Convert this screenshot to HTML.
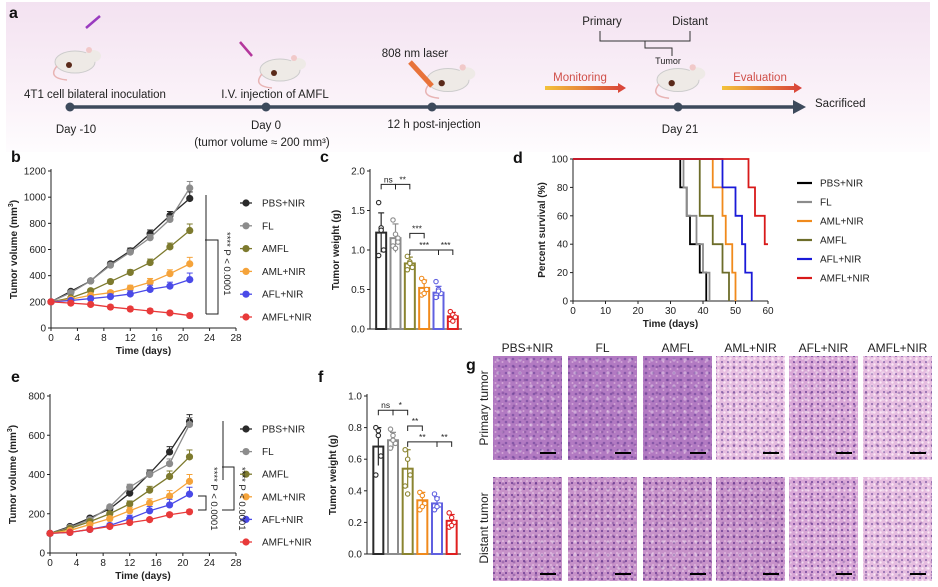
<!DOCTYPE html>
<html><head><meta charset="utf-8">
<style>
html,body{margin:0;padding:0;background:#fff;}
svg{display:block;font-family:"Liberation Sans",Arial,sans-serif;}
.tk{font-size:10px;fill:#222;}
.at{font-size:10px;font-weight:bold;fill:#222;}
.lg{font-size:10px;fill:#222;}
.pl{font-size:16px;font-weight:bold;fill:#111;}
.tl{font-size:11.5px;fill:#222;}
.gl{font-size:12px;fill:#222;}
</style></head>
<body>
<svg id="fig" width="938" height="587" viewBox="0 0 938 587" xmlns="http://www.w3.org/2000/svg">
<defs>
<linearGradient id="bgA" x1="0" y1="0" x2="0" y2="1"><stop offset="0" stop-color="#f3e2f1"/><stop offset="0.6" stop-color="#faf1f8"/><stop offset="1" stop-color="#fefcfe"/></linearGradient>
<linearGradient id="arr" x1="0" x2="1"><stop offset="0" stop-color="#f3c23a"/><stop offset="1" stop-color="#d8403a"/></linearGradient>
<pattern id="he1" width="7" height="7" patternUnits="userSpaceOnUse"><rect width="7" height="7" fill="#b27ac2"/><circle cx="2" cy="2" r="1.3" fill="#8658a8"/><circle cx="5.5" cy="5" r="1" fill="#d3a6d6"/></pattern>
<pattern id="he2" width="6" height="6" patternUnits="userSpaceOnUse"><rect width="6" height="6" fill="#c792c9"/><circle cx="2" cy="3" r="1.1" fill="#7a4a9c"/><circle cx="5" cy="1" r="0.8" fill="#f0d8ee"/></pattern>
<pattern id="he3" width="6" height="6" patternUnits="userSpaceOnUse"><rect width="6" height="6" fill="#e6bde0"/><circle cx="2" cy="2" r="0.9" fill="#6a4a9a"/><circle cx="4.5" cy="4.5" r="1.2" fill="#fbeaf6"/></pattern>
<pattern id="he4" width="6" height="6" patternUnits="userSpaceOnUse"><rect width="6" height="6" fill="#d8a6d6"/><circle cx="2" cy="2" r="1" fill="#70449a"/><circle cx="4.5" cy="4.5" r="1.1" fill="#f4dcf0"/></pattern>
<pattern id="ov" width="11" height="13" patternUnits="userSpaceOnUse"><circle cx="3" cy="9" r="1.6" fill="#fff" opacity="0.35"/><circle cx="8" cy="3" r="1.4" fill="#5a2e82" opacity="0.35"/></pattern>
</defs>
</svg>
<script>
// ---------- data ----------
const days = [0,3,6,9,12,15,18,21];
const groups = ["PBS+NIR","FL","AMFL","AML+NIR","AFL+NIR","AMFL+NIR"];
const colors = ["#2a2a2a","#8c8c8c","#7d7a2e","#f5a33a","#4a4ae8","#e83a3a"];
const barColors = ["#2a2a2a","#8c8c8c","#8a8430","#f08a1c","#6060e0","#e02020"];
const volB_PBS  = [200,280,360,490,590,720,860,990];
const volB_FL   = [200,270,360,480,580,690,830,1070];
const volB_AMFL = [200,230,285,355,425,500,620,745];
const volB_AML  = [200,220,250,270,305,350,415,490];
const volB_AFL  = [200,210,225,240,260,295,320,370];
const volB_AMFLN= [200,190,180,160,145,130,115,95];
const errB = [5,25,20,30,35,40,35,50];
const volE_PBS  = [100,135,178,225,305,405,515,670];
const volE_FL   = [100,130,170,235,335,400,455,655];
const volE_AMFL = [100,125,160,200,250,320,390,490];
const volE_AML  = [100,115,145,175,215,255,290,365];
const volE_AFL  = [100,105,120,140,175,215,245,300];
const volE_AMFLN= [100,105,120,135,155,170,195,210];
const errE = [5,10,15,25,30,30,35,35];
const weightC = [1.22,1.15,0.83,0.52,0.46,0.16];
const weightCsd = [0.25,0.18,0.08,0.1,0.08,0.05];
const dotsC = [[1.6,1.28,1.0,0.93,1.25],[1.38,1.2,1.15,1.05,1.02,1.1],[0.92,0.85,0.78,0.75,0.83],[0.64,0.6,0.5,0.43,0.45],[0.6,0.5,0.45,0.4,0.48],[0.22,0.18,0.15,0.12,0.1]];
const weightF = [0.68,0.72,0.54,0.34,0.32,0.21];
const weightFsd = [0.12,0.05,0.12,0.05,0.04,0.04];
const dotsF = [[0.8,0.75,0.62,0.5,0.78],[0.79,0.75,0.7,0.67,0.72],[0.66,0.6,0.5,0.43,0.38],[0.39,0.37,0.32,0.28,0.3],[0.38,0.35,0.31,0.28,0.3],[0.26,0.23,0.2,0.17,0.18]];
const surv_PBS  = [[0,100],[33,80],[35,60],[36,40],[39,20],[41,0]];
const surv_FL   = [[0,100],[34,80],[35,60],[38,40],[40,20],[42,0]];
const surv_AML  = [[0,100],[43,80],[46,60],[47,40],[49,20],[50,0]];
const surv_AMFL = [[0,100],[39,60],[43,40],[46,20],[48,0]];
const surv_AFL  = [[0,100],[46,80],[50,60],[52,40],[53,20],[55,0]];
const surv_AMFLN= [[0,100],[54,80],[56,60],[59,40],[60,40]];
const survNames = ["PBS+NIR","FL","AML+NIR","AMFL","AFL+NIR","AMFL+NIR"];
const survColors = ["#000","#8c8c8c","#f08a1c","#6d6d2a","#1a1ad8","#d81a1a"];
const volTicks = [0,200,400,600,800,1000,1200];
const volTicksE = [0,200,400,600,800];
const dayTicks = [0,4,8,12,16,20,24,28];
const wTicksC = ["0.0","0.5","1.0","1.5","2.0"];
const wTicksF = ["0.0","0.2","0.4","0.6","0.8","1.0"];
const survTicksX = [0,10,20,30,40,50,60];
const survTicksY = [0,20,40,60,80,100];

const NS="http://www.w3.org/2000/svg";
const svg=document.getElementById('fig');
function el(tag,attrs,parent,text){const e=document.createElementNS(NS,tag);for(const k in attrs)e.setAttribute(k,attrs[k]);if(text!==undefined)e.textContent=text;(parent||svg).appendChild(e);return e;}
function grp(name){const g=el('g',{});return g;}

// ---------- panel a ----------
const A=grp('panel-a-timeline');
el('rect',{x:6,y:2,width:924,height:150,fill:'url(#bgA)'},A);
el('text',{x:9,y:18,class:'pl'},A,'a');
el('line',{x1:70,y1:107,x2:795,y2:107,stroke:'#3d4a5c','stroke-width':3.5},A);
el('path',{d:'M793,100 L806,107 L793,114 Z',fill:'#3d4a5c'},A);
[70,266,432,678].forEach(x=>el('circle',{cx:x,cy:107,r:4.5,fill:'#3d4a5c'},A));
function mouse(cx,cy,s){el('ellipse',{cx:cx,cy:cy,rx:20*s,ry:11*s,fill:'#eeeae6',stroke:'#ccc'},A);el('ellipse',{cx:cx+18*s,cy:cy-6*s,rx:8*s,ry:6*s,fill:'#eeeae6'},A);el('circle',{cx:cx+14*s,cy:cy-12*s,r:3*s,fill:'#f1c9c9'},A);el('path',{d:`M${cx-18*s},${cy+4*s} q-10,12 10,14`,stroke:'#e8b4b4',fill:'none','stroke-width':1.5},A);el('circle',{cx:cx-6*s,cy:cy+3*s,r:3*s,fill:'#5a2a1a'},A);}
mouse(75,62,1);mouse(280,70,1);mouse(448,80,1.05);mouse(678,80,1.05);
el('line',{x1:86,y1:28,x2:100,y2:16,stroke:'#9a3cc0','stroke-width':2.5},A);
el('line',{x1:240,y1:42,x2:252,y2:56,stroke:'#b4369c','stroke-width':2.5},A);
el('line',{x1:410,y1:62,x2:432,y2:86,stroke:'#e8733a','stroke-width':5},A);
const at=[['4T1 cell bilateral inoculation',95,98,'middle'],['Day -10',76,133,'middle'],['I.V. injection of AMFL',275,98,'middle'],['Day 0',266,129,'middle'],['12 h post-injection',434,128,'middle'],['808 nm laser',415,57,'middle'],['Primary',602,25,'middle'],['Distant',690,25,'middle'],['Day 21',680,133,'middle'],['Sacrificed',815,107,'start']];
at.forEach(t=>{el('text',{x:t[1],y:t[2],class:'tl','text-anchor':t[3]},A,t[0]);});
el('text',{x:262,y:146,class:'tl','text-anchor':'middle'},A,'(tumor volume ≈ 200 mm³)');
el('text',{x:668,y:64,'font-size':'9px','text-anchor':'middle',fill:'#222'},A,'Tumor');
el('path',{d:'M600,31 V41 H690 V31 M645,41 V48 H672 V56',stroke:'#333',fill:'none'},A);
el('text',{x:580,y:81,'font-size':'11.5px','text-anchor':'middle',fill:'#d0504a'},A,'Monitoring');
el('text',{x:760,y:81,'font-size':'11.5px','text-anchor':'middle',fill:'#d0504a'},A,'Evaluation');
el('path',{d:'M545,86 H618 V83 L626,88 L618,93 V90 H545 Z',fill:'url(#arr)'},A);
el('path',{d:'M722,86 H794 V83 L802,88 L794,93 V90 H722 Z',fill:'url(#arr)'},A);

// ---------- line charts ----------
function lineChart(name,letter,lx,ly,x0,x1,y0,yTop,ymax,ticks,series,err,legY,brackets){
  const G=grp(name);
  const X=d=>x0+(d/28)*(x1-x0), Y=v=>y0-(v/ymax)*(y0-yTop);
  el('text',{x:lx,y:ly,class:'pl'},G,letter);
  el('line',{x1:x0,y1:yTop-2,x2:x0,y2:y0,stroke:'#222'},G);
  el('line',{x1:x0,y1:y0,x2:x1,y2:y0,stroke:'#222'},G);
  ticks.forEach(v=>{el('line',{x1:x0-3,y1:Y(v),x2:x0,y2:Y(v),stroke:'#222'},G);el('text',{x:x0-5,y:Y(v)+3.5,class:'tk','text-anchor':'end'},G,v);});
  dayTicks.forEach(d=>{el('line',{x1:X(d),y1:y0,x2:X(d),y2:y0+3,stroke:'#222'},G);el('text',{x:X(d),y:y0+13,class:'tk','text-anchor':'middle'},G,d);});
  el('text',{x:(x0+x1)/2,y:y0+26,class:'at','text-anchor':'middle'},G,'Time (days)');
  const ty=(y0+yTop)/2;
  const t=el('text',{x:0,y:0,class:'at','text-anchor':'middle',transform:`translate(${x0-34},${ty}) rotate(-90)`},G,'Tumor volume (mm');
  el('tspan',{'font-size':'7px',dy:-4},t,'3');el('tspan',{dy:4},t,')');
  series.forEach((s,i)=>{
    const pts=s.map((v,j)=>X(days[j])+','+Y(v)).join(' ');
    const pl=el('polyline',{points:pts,fill:'none',stroke:colors[i],'stroke-width':1.3},G);
    
    s.forEach((v,j)=>{const e=(i==5?0.3:1)*err[j]*(v/s[s.length-1]);el('line',{x1:X(days[j]),y1:Y(v+e),x2:X(days[j]),y2:Y(v),stroke:colors[i]},G);el('line',{x1:X(days[j])-3,y1:Y(v+e),x2:X(days[j])+3,y2:Y(v+e),stroke:colors[i]},G);
      const c=el('circle',{cx:X(days[j]),cy:Y(v),r:3.6,fill:colors[i]},G);});
  });
  groups.forEach((g,i)=>{const y=legY[0]+i*(legY[1]);
    const le=el('g',{},G);
    el('line',{x1:240,y1:y,x2:252,y2:y,stroke:colors[i],'stroke-width':1.3},le);el('circle',{cx:246,cy:y,r:3.6,fill:colors[i]},le);el('text',{x:262,y:y+3.5,class:'lg'},le,g);});
  brackets(G);
}
lineChart('panel-b-tumor-volume','b',11,162,51,236,328,171,1200,volTicks,[volB_PBS,volB_FL,volB_AMFL,volB_AML,volB_AFL,volB_AMFLN],errB,[203,22.8],G=>{
  el('line',{x1:206,y1:195,x2:206,y2:314,stroke:'#222'},G);
  el('path',{d:'M205,240 H218 V314 H206',stroke:'#222',fill:'none'},G);
  el('text',{x:0,y:0,'font-size':'9.5px',fill:'#222',transform:'translate(224,232) rotate(90)'},G,'**** P < 0.0001');
});
lineChart('panel-e-tumor-volume','e',11,382,50,236,553,396,800,volTicksE,[volE_PBS,volE_FL,volE_AMFL,volE_AML,volE_AFL,volE_AMFLN],errE,[429,22.6],G=>{
  el('line',{x1:223,y1:421,x2:223,y2:480,stroke:'#222'},G);
  el('path',{d:'M222,467 H234 V510 H222',stroke:'#222',fill:'none'},G);
  el('path',{d:'M198,496 H206 V510 H198',stroke:'#222',fill:'none'},G);
  el('text',{x:0,y:0,'font-size':'9.5px',fill:'#222',transform:'translate(211,467) rotate(90)'},G,'**** P < 0.0001');
  el('text',{x:0,y:0,'font-size':'9.5px',fill:'#222',transform:'translate(239,467) rotate(90)'},G,'**** P < 0.0001');
});

// ---------- bar charts ----------
function barChart(name,letter,lx,ly,x0,x1,y0,yTop,ymax,ticks,vals,sds,dots,sig){
  const G=grp(name);
  const Y=v=>y0-(v/ymax)*(y0-yTop);
  const step=(x1-x0-6)/6, X=i=>x0+6+step*(i+0.5)-2;
  el('text',{x:lx,y:ly,class:'pl'},G,letter);
  el('line',{x1:x0,y1:yTop-2,x2:x0,y2:y0,stroke:'#222'},G);
  el('line',{x1:x0,y1:y0,x2:x1,y2:y0,stroke:'#222'},G);
  ticks.forEach(t=>{const v=parseFloat(t);el('line',{x1:x0-3,y1:Y(v),x2:x0,y2:Y(v),stroke:'#222'},G);el('text',{x:x0-5,y:Y(v)+3.5,class:'tk','text-anchor':'end'},G,t);});
  el('text',{x:0,y:0,class:'at','text-anchor':'middle',transform:`translate(${x0-31},${(y0+yTop)/2}) rotate(-90)`},G,'Tumor weight (g)');
  vals.forEach((v,i)=>{const c=barColors[i];
    const b=el('rect',{x:X(i)-5,y:Y(v),width:10,height:y0-Y(v),fill:'#fff',stroke:c,'stroke-width':2},G);
    el('line',{x1:X(i),y1:Y(v-sds[i]),x2:X(i),y2:Y(v+sds[i]),stroke:c,'stroke-width':1.2},G);
    el('line',{x1:X(i)-3,y1:Y(v+sds[i]),x2:X(i)+3,y2:Y(v+sds[i]),stroke:c,'stroke-width':1.2},G);
    dots[i].forEach((d,k)=>el('circle',{cx:X(i)+(k%3-1)*2.5,cy:Y(d),r:2.2,fill:'#fff',stroke:c,'stroke-width':1.1},G));
  });
  sig.forEach(s=>{const [a,b,y,txt]=s;const yy=Y(y);el('path',{d:`M${X(a)},${yy+5} V${yy} H${X(b)} V${yy+5}`,stroke:'#222',fill:'none'},G);el('text',{x:(X(a)+X(b))/2,y:yy-2,'font-size':'8.5px','text-anchor':'middle',fill:'#222'},G,txt);});
}
barChart('panel-c-tumor-weight','c',320,162,370,462,329,171,2.0,wTicksC,weightC,weightCsd,dotsC,[[0,1,1.83,'ns'],[1,2,1.83,'**'],[2,3,1.21,'***'],[2,4,1.0,'***'],[4,5,1.0,'***']]);
barChart('panel-f-tumor-weight','f',318,382,367,461,554,396,1.0,wTicksF,weightF,weightFsd,dotsF,[[0,1,0.91,'ns'],[1,2,0.91,'*'],[2,3,0.81,'**'],[2,4,0.71,'**'],[4,5,0.71,'**']]);

// ---------- panel d ----------
(function(){
  const G=grp('panel-d-survival');
  const x0=573,x1=768,y0=301,yT=159;
  const X=d=>x0+d/60*(x1-x0), Y=v=>y0-v/100*(y0-yT);
  el('text',{x:513,y:163,class:'pl'},G,'d');
  el('line',{x1:x0,y1:yT,x2:x0,y2:y0,stroke:'#222'},G);
  el('line',{x1:x0,y1:y0,x2:x1,y2:y0,stroke:'#222'},G);
  survTicksY.forEach(v=>{el('line',{x1:x0-3,y1:Y(v),x2:x0,y2:Y(v),stroke:'#222'},G);el('text',{x:x0-5,y:Y(v)+3.5,class:'tk','text-anchor':'end'},G,v);});
  survTicksX.forEach(v=>{el('line',{x1:X(v),y1:y0,x2:X(v),y2:y0+3,stroke:'#222'},G);el('text',{x:X(v),y:y0+13,class:'tk','text-anchor':'middle'},G,v);});
  el('text',{x:(x0+x1)/2,y:y0+26,class:'at','text-anchor':'middle'},G,'Time (days)');
  el('text',{x:0,y:0,class:'at','text-anchor':'middle',transform:`translate(545,${(y0+yT)/2}) rotate(-90)`},G,'Percent survival (%)');
  [surv_PBS,surv_FL,surv_AML,surv_AMFL,surv_AFL,surv_AMFLN].forEach((s,i)=>{
    let d=`M${X(s[0][0])},${Y(s[0][1])}`;
    for(let k=1;k<s.length;k++){d+=` H${X(s[k][0])} V${Y(s[k][1])}`;}
    const p=el('path',{d:d,fill:'none',stroke:survColors[i],'stroke-width':1.8},G);
    const y=183+i*19;
    const le=el('g',{},G);
    el('line',{x1:797,y1:y,x2:812,y2:y,stroke:survColors[i],'stroke-width':2.2},le);
    el('text',{x:820,y:y+3.5,class:'lg'},le,survNames[i]);
  });
})();

// ---------- panel g ----------
(function(){
  const G=grp('panel-g-histology');
  el('text',{x:466,y:370,class:'pl'},G,'g');
  const xs=[493,568,643,716,789,863];
  const fills=[['he1','he1','he1','he3','he4','he3'],['he2','he2','he2','he2','he4','he3']];
  groups.forEach((g,i)=>el('text',{x:xs[i]+34.5,y:352,class:'gl','text-anchor':'middle'},G,g));
  el('text',{x:0,y:0,class:'gl','text-anchor':'middle',transform:'translate(488,408) rotate(-90)'},G,'Primary tumor');
  el('text',{x:0,y:0,class:'gl','text-anchor':'middle',transform:'translate(488,528) rotate(-90)'},G,'Distant tumor');
  [356,477].forEach((y,r)=>xs.forEach((x,i)=>{
    const t=el('rect',{x:x,y:y,width:69,height:104,fill:`url(#${fills[r][i]})`},G);
    el('rect',{x:x,y:y,width:69,height:104,fill:'url(#ov)'},G);
    el('line',{x1:x+47,y1:y+97,x2:x+63,y2:y+97,stroke:'#000','stroke-width':2},G);
  }));
})();
</script>
</body></html>
